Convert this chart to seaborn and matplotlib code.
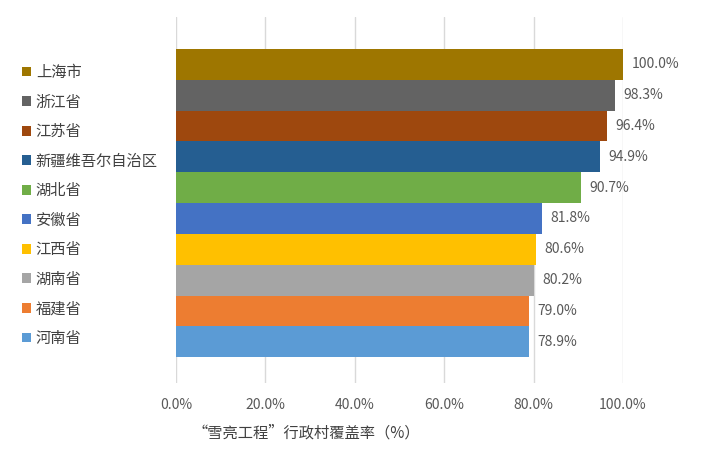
import matplotlib
matplotlib.use("Agg")
import matplotlib.pyplot as plt
from matplotlib.patches import Patch
import seaborn as sns
import pandas as pd

categories = ["上海市", "浙江省", "江苏省", "新疆维吾尔自治区", "湖北省",
              "安徽省", "江西省", "湖南省", "福建省", "河南省"]
values = [100.0, 98.3, 96.4, 94.9, 90.7, 81.8, 80.6, 80.2, 79.0, 78.9]
colors = ["#9E7600", "#636363", "#9E480E", "#255E91", "#70AD47",
          "#4472C4", "#FFC000", "#A5A5A5", "#ED7D31", "#5B9BD5"]
x_ticks = [0, 20, 40, 60, 80, 100]
x_label = "“雪亮工程”行政村覆盖率（%）"

sns.set_theme(style="white")
plt.rcParams["font.family"] = ["Noto Sans CJK SC", "DejaVu Sans"]

df = pd.DataFrame({"cat": categories, "val": values})
fig = plt.figure(figsize=(7.03, 4.63), dpi=100)
ax = fig.add_axes([176/703, 80/463, (623-176)/703, (383-17)/463])

sns.barplot(data=df, y="cat", x="val", hue="cat", palette=colors,
            order=categories, hue_order=categories, dodge=False,
            width=1.0, legend=False, ax=ax, orient="h", saturation=1,
            linewidth=0, edgecolor="none")

ax.set_xlim(0, 100)
ax.set_ylim(10.34, -1.54)
ax.set_xticks(x_ticks)
ax.set_xticklabels([f"{t:.1f}%" for t in x_ticks], color="#595959", fontsize=10)
ax.tick_params(axis="x", length=0, pad=11)
ax.set_yticks([])
ax.set_ylabel("")
ax.set_xlabel("")
ax.grid(axis="x", color="#d9d9d9", linewidth=1)
ax.set_axisbelow(True)
for s in ax.spines.values():
    s.set_visible(False)

for i, v in enumerate(values):
    ax.annotate(f"{v:.1f}%", xy=(v, i), xytext=(6, 0), textcoords="offset points",
                va="center", ha="left", fontsize=10, color="#595959",
                annotation_clip=False)

handles = [Patch(facecolor=c, edgecolor="none") for c in colors]
fig.legend(handles, categories, loc="upper left", bbox_to_anchor=(22/703, 1 - 64/463),
           frameon=False, handlelength=0.6, handleheight=0.6, handletextpad=0.3,
           labelspacing=0.82, fontsize=11, labelcolor="#404040", borderaxespad=0,
           borderpad=0)

fig.text(193/703, 1 - 433/463, x_label, fontsize=11, color="#404040",
         ha="left", va="center")

fig.savefig("out.png", dpi=100)
